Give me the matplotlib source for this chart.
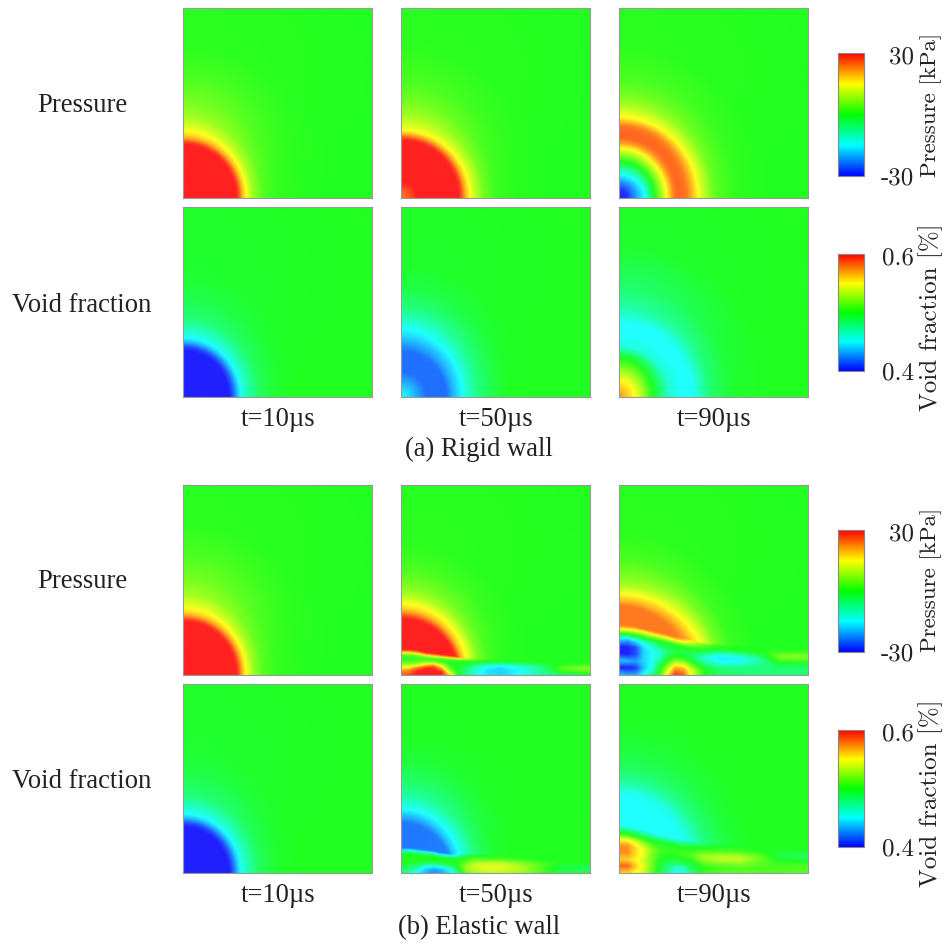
import numpy as np
import matplotlib
matplotlib.use("Agg")
import matplotlib.pyplot as plt
from matplotlib.cm import ScalarMappable
from matplotlib.colors import LinearSegmentedColormap, Normalize

W, H = 947, 945

times = ["t=10µs", "t=50µs", "t=90µs"]
row_names = ["Pressure", "Void fraction"]
captions = ["(a) Rigid wall", "(b) Elastic wall"]
pressure_ticks = ["30", "-30"]
void_ticks = ["0.6", "0.4"]

# All fields are scaled: -1 = blue, 0 = green, 1 = red
# radial readings from the lower left corner, up the left edge (top) and along the bottom (side)
p10_r = [0, 53, 56, 59, 63, 70, 80, 95, 120, 150, 270]
p10_top = [1, 1, .9, .72, .58, .44, .3, .2, .1, .03, 0]
p10_side = [1, 1, .88, .68, .5, .28, .12, .04, .01, 0, 0]

p50_r = [0, 6, 12, 16, 57, 60, 63, 67, 73, 82, 95, 115, 150, 270]
p50_top = [.8, .85, .95, 1, 1, .9, .72, .52, .4, .3, .2, .1, .03, 0]
p50_side = [.8, .85, .95, 1, 1, .9, .72, .55, .38, .18, .06, .02, 0, 0]

p90_r = [0, 8, 15, 25, 35, 47, 55, 60, 67, 72, 80, 93, 102, 118, 150, 270]
p90_top = [-1, -.95, -.75, -.42, -.05, .4, .72, .84, .84, .8, .52, .3, .2, .1, .03, 0]
p90_side = [-1, -.95, -.75, -.5, 0, .5, .8, .84, .8, .68, .46, .18, .1, .03, 0, 0]

v10_r = [0, 46, 50, 55, 59, 66, 78, 98, 120, 270]
v10_top = [-1, -1, -.9, -.65, -.5, -.38, -.2, -.1, -.04, 0]
v10_side = [-1, -1, -.85, -.6, -.45, -.3, -.12, -.02, 0, 0]

v50_r = [0, 8, 16, 25, 45, 52, 61, 68, 78, 91, 107, 130, 270]
v50_top = [-.5, -.58, -.7, -.82, -.82, -.72, -.58, -.5, -.35, -.2, -.1, -.03, 0]
v50_side = [-.5, -.58, -.7, -.82, -.82, -.65, -.5, -.35, -.2, -.1, -.01, 0, 0]

v90_r = [0, 8, 15, 25, 33, 42, 50, 62, 74, 89, 110, 117, 150, 270]
v90_top = [.75, .62, .52, .3, .12, -.1, -.42, -.5, -.5, -.3, -.17, -.15, -.03, 0]
v90_side = [.75, .6, .5, .25, 0, -.2, -.4, -.5, -.48, -.2, -.05, -.03, 0, 0]

ep50_r = [0, 56, 59, 62, 66, 71, 78, 88, 105, 130, 270]
ep50_top = [1, 1, .9, .75, .6, .5, .35, .22, .1, .03, 0]
ep50_side = [1, 1, .85, .65, .52, .4, .2, .08, .02, 0, 0]

ep90_r = [0, 60, 69, 74, 81, 90, 100, 115, 140, 270]
ep90_top = [.8, .8, .8, .65, .5, .3, .2, .1, .03, 0]
ep90_side = [.8, .8, .8, .75, .6, .45, .2, .05, 0, 0]

ev50_r = [0, 50, 56, 64, 78, 95, 115, 140, 270]
ev50_top = [-.8, -.8, -.68, -.5, -.28, -.15, -.05, -.01, 0]
ev50_side = [-.8, -.78, -.58, -.42, -.15, -.03, 0, 0, 0]

ev90_r = [0, 48, 71, 80, 90, 104, 120, 140, 170, 270]
ev90_top = [-.5, -.5, -.5, -.48, -.3, -.15, -.08, -.03, 0, 0]
ev90_side = [-.5, -.5, -.48, -.35, -.2, -.1, -.03, 0, 0, 0]

band_x = [0, 8, 16, 24, 32, 40, 48, 56, 64, 72, 85, 100, 120, 140, 160, 189]
band_s = [1, .9, .8, .7, .56, .42, .28, .14, 0]

ep50_height = [25, 25, 24, 22, 21, 20, 19, 18, 17, 16, 15, 15, 15, 15, 14, 14]
ep50_band = [
    [1, .6, .2, .05, .05, .25, .5, .75, .85],
    [1, .6, .2, .05, .05, .25, .55, .8, .9],
    [1, .6, .2, .05, .1, .35, .8, 1, 1],
    [1, .6, .2, .05, .25, .65, 1, 1, 1],
    [1, .6, .2, .05, .35, .8, 1, 1, 1],
    [1, .6, .15, .05, .2, .5, .75, 1, 1],
    [1, .6, .15, .03, 0, .1, .2, .35, .6],
    [.95, .55, .1, 0, -.03, -.03, -.03, 0, .05],
    [.6, .3, .05, 0, -.05, -.12, -.18, -.2, -.2],
    [.3, .1, 0, -.08, -.2, -.32, -.38, -.4, -.4],
    [.08, 0, -.08, -.25, -.45, -.52, -.55, -.55, -.55],
    [.02, -.02, -.1, -.3, -.5, -.58, -.6, -.6, -.6],
    [0, 0, -.08, -.2, -.38, -.45, -.5, -.48, -.48],
    [0, 0, -.02, -.1, -.2, -.25, -.28, -.28, -.28],
    [0, 0, 0, .02, .1, .12, .08, -.08, -.12],
    [0, 0, .03, .05, .2, .25, .2, .05, 0],
]

ep90_height = [50, 49, 48, 46, 44, 42, 40, 38, 36, 34, 31, 30, 29, 28, 27, 27]
ep90_band = [
    [.8, .45, -.1, -.6, -1, -1, -.6, -1, -.6],
    [.8, .4, -.2, -.7, -1, -1, -.65, -1, -.7],
    [.8, .4, -.1, -.55, -.9, -.9, -.7, -.95, -.7],
    [.8, .35, -.05, -.45, -.6, -.6, -.6, -.65, -.5],
    [.8, .4, 0, -.3, -.5, -.5, -.5, -.45, -.3],
    [.8, .4, 0, -.15, -.4, -.4, -.2, -.05, .05],
    [.8, .42, 0, -.1, -.18, -.08, .12, .35, .55],
    [.8, .48, .05, -.05, -.08, .1, .45, .75, .95],
    [.72, .45, .08, -.05, -.08, .08, .42, .7, .85],
    [.5, .3, .08, -.05, -.15, -.05, .18, .4, .45],
    [.2, .1, .02, -.2, -.4, -.32, -.12, 0, 0],
    [.05, 0, -.08, -.38, -.55, -.5, -.28, -.15, -.15],
    [0, 0, -.05, -.3, -.52, -.45, -.28, -.2, -.2],
    [0, 0, 0, -.12, -.3, -.28, -.22, -.2, -.2],
    [0, .03, .1, .2, .15, -.05, -.15, -.2, -.2],
    [0, .03, .1, .25, .15, -.05, -.15, -.2, -.2],
]

ev50_height = [25, 25, 24, 23, 22, 20, 19, 18, 18, 18, 17, 17, 16, 15, 14, 14]
ev50_band = [
    [-.8, -.5, -.1, 0, 0, 0, -.05, -.15, -.2],
    [-.8, -.5, -.1, 0, 0, 0, -.1, -.2, -.3],
    [-.8, -.5, -.1, 0, 0, -.05, -.2, -.4, -.5],
    [-.8, -.5, -.1, 0, 0, -.1, -.45, -.6, -.65],
    [-.8, -.5, -.1, 0, 0, -.15, -.5, -.7, -.75],
    [-.8, -.5, -.1, 0, 0, -.15, -.45, -.65, -.7],
    [-.72, -.48, -.1, 0, -.02, -.1, -.3, -.5, -.55],
    [-.5, -.3, -.05, 0, 0, 0, -.05, -.15, -.3],
    [-.2, -.08, .03, .08, .15, .22, .27, .22, .15],
    [-.08, .03, .1, .18, .3, .36, .38, .33, .28],
    [0, .05, .12, .22, .35, .42, .44, .4, .36],
    [0, .05, .12, .22, .35, .42, .44, .4, .36],
    [0, .02, .08, .15, .25, .3, .34, .3, .27],
    [0, 0, .03, .06, .1, .12, .12, .12, .08],
    [0, 0, 0, 0, -.03, -.08, -.1, -.1, -.05],
    [0, 0, 0, 0, -.05, -.12, -.15, -.12, -.05],
]

ev90_height = [48, 47, 45, 43, 41, 39, 37, 35, 33, 31, 29, 28, 27, 26, 25, 25]
ev90_band = [
    [-.5, -.2, .1, .5, .75, .75, .6, .85, .6],
    [-.5, -.2, .1, .5, .75, .75, .6, .85, .6],
    [-.5, -.2, .05, .42, .58, .58, .52, .62, .5],
    [-.5, -.25, 0, .25, .45, .45, .4, .45, .4],
    [-.5, -.3, -.05, .1, .25, .2, .2, .2, .15],
    [-.5, -.3, -.05, .05, .1, .05, -.02, -.05, -.05],
    [-.5, -.3, -.05, .03, .05, 0, -.1, -.2, -.25],
    [-.5, -.3, -.05, .03, .05, -.03, -.15, -.4, -.5],
    [-.42, -.25, -.05, .03, .08, 0, -.12, -.35, -.45],
    [-.3, -.15, 0, .05, .12, .03, -.05, -.15, -.2],
    [-.15, -.03, .05, .15, .3, .25, .1, .05, .05],
    [-.05, .02, .08, .2, .35, .32, .15, .1, .1],
    [0, .03, .08, .2, .35, .32, .18, .12, .12],
    [0, 0, .03, .1, .18, .15, .12, .1, .1],
    [0, -.02, -.05, -.1, -.05, .02, .08, .1, .1],
    [0, -.03, -.08, -.15, -.1, .02, .1, .12, .12],
]

plt.rcParams["font.family"] = ["Liberation Serif", "DejaVu Serif"]

field_cmap = LinearSegmentedColormap.from_list(
    "field", ["#2020ff", "#20ffff", "#20ff20", "#ffff20", "#ff2020"], N=512)
bar_cmap = LinearSegmentedColormap.from_list(
    "bar", ["#0000ff", "#00ffff", "#00ff00", "#ffff00", "#ff0000"], N=512)
norm = Normalize(-1, 1)

xx, yy = np.meshgrid(np.arange(190.0), np.arange(191.0))
rr = np.hypot(xx, yy)
up = (yy / np.maximum(rr, 1e-6)) ** 2


def radial(r_knots, top, side):
    return up * np.interp(rr, r_knots, top) + (1 - up) * np.interp(rr, r_knots, side)


def add_band(field, height, band):
    # band stations laid over the radial part, up to the interface height
    s_up = np.array(band_s)[::-1]
    stations = np.array(band)[:, ::-1]
    tops = np.interp(xx[0], band_x, height)
    out = field.copy()
    for i in range(xx.shape[1]):
        col = [np.interp(xx[0, i], band_x, stations[:, k]) for k in range(len(s_up))]
        s = yy[:, i] / tops[i]
        out[:, i] = np.where(s <= 1, np.interp(s, s_up, col), field[:, i])
    return out


def px_axes(fig, x0, y0, x1, y1):
    return fig.add_axes([x0 / W, 1 - y1 / H, (x1 - x0) / W, (y1 - y0) / H])


def px_text(fig, x, y, s, **kw):
    fig.text(x / W, 1 - y / H, s, ha=kw.pop("ha", "center"), va="center", color="#222222", **kw)


def draw_panel(fig, box, field):
    ax = px_axes(fig, *box)
    ax.imshow(field, origin="lower", cmap=field_cmap, norm=norm, aspect="auto",
              interpolation="bicubic", extent=(0, 189, 0, 190))
    ax.set_xticks([])
    ax.set_yticks([])
    for sp in ax.spines.values():
        sp.set_color("#999999")
        sp.set_linewidth(0.8)


def draw_bar(fig, y0, y1):
    cax = px_axes(fig, 838, y0, 864, y1)
    cb = fig.colorbar(ScalarMappable(norm=norm, cmap=bar_cmap), cax=cax, ticks=[])
    cb.outline.set_edgecolor("#888888")
    cb.outline.set_linewidth(0.8)


fig = plt.figure(figsize=(W / 100, H / 100), dpi=100)

col_x = [(183, 372), (401, 590), (619, 808)]
row_y = [(9, 199), (208, 398), (486, 676), (685, 874)]

rigid_p = [radial(p10_r, p10_top, p10_side), radial(p50_r, p50_top, p50_side), radial(p90_r, p90_top, p90_side)]
rigid_v = [radial(v10_r, v10_top, v10_side), radial(v50_r, v50_top, v50_side), radial(v90_r, v90_top, v90_side)]
elastic_p = [rigid_p[0],
             add_band(radial(ep50_r, ep50_top, ep50_side), ep50_height, ep50_band),
             add_band(radial(ep90_r, ep90_top, ep90_side), ep90_height, ep90_band)]
elastic_v = [rigid_v[0],
             add_band(radial(ev50_r, ev50_top, ev50_side), ev50_height, ev50_band),
             add_band(radial(ev90_r, ev90_top, ev90_side), ev90_height, ev90_band)]

for (y0, y1), fields in zip(row_y, [rigid_p, rigid_v, elastic_p, elastic_v]):
    for (x0, x1), field in zip(col_x, fields):
        draw_panel(fig, (x0, y0, x1, y1), field)

fs = 19.2
for y, name in zip([106, 306, 582, 782], row_names * 2):
    px_text(fig, 82, y, name, fontsize=fs)
for y in [420, 896]:
    for (x0, x1), t in zip(col_x, times):
        px_text(fig, (x0 + x1) / 2 + 1, y, t, fontsize=fs)
px_text(fig, 479, 449, captions[0], fontsize=fs)
px_text(fig, 479, 928, captions[1], fontsize=fs)

# colour bars with their labels
cm_font = ["cmr10", "DejaVu Serif"]
bars = [(54, 177, pressure_ticks, "Pressure [kPa]", 105, 16.6),
        (255, 372, void_ticks, "Void fraction [%]", 317, 18),
        (531, 653, pressure_ticks, "Pressure [kPa]", 580, 16.6),
        (731, 848, void_ticks, "Void fraction [%]", 793, 18)]
for y0, y1, ticks, label, ymid, label_fs in bars:
    draw_bar(fig, y0, y1)
    px_text(fig, 914, y0 + 3, ticks[0], fontsize=18, family=cm_font, ha="right")
    px_text(fig, 914, y1 + 1, ticks[1], fontsize=18, family=cm_font, ha="right")
    px_text(fig, 931, ymid, label, fontsize=label_fs, rotation=90, family=cm_font)

fig.savefig("out.png", dpi=100)
